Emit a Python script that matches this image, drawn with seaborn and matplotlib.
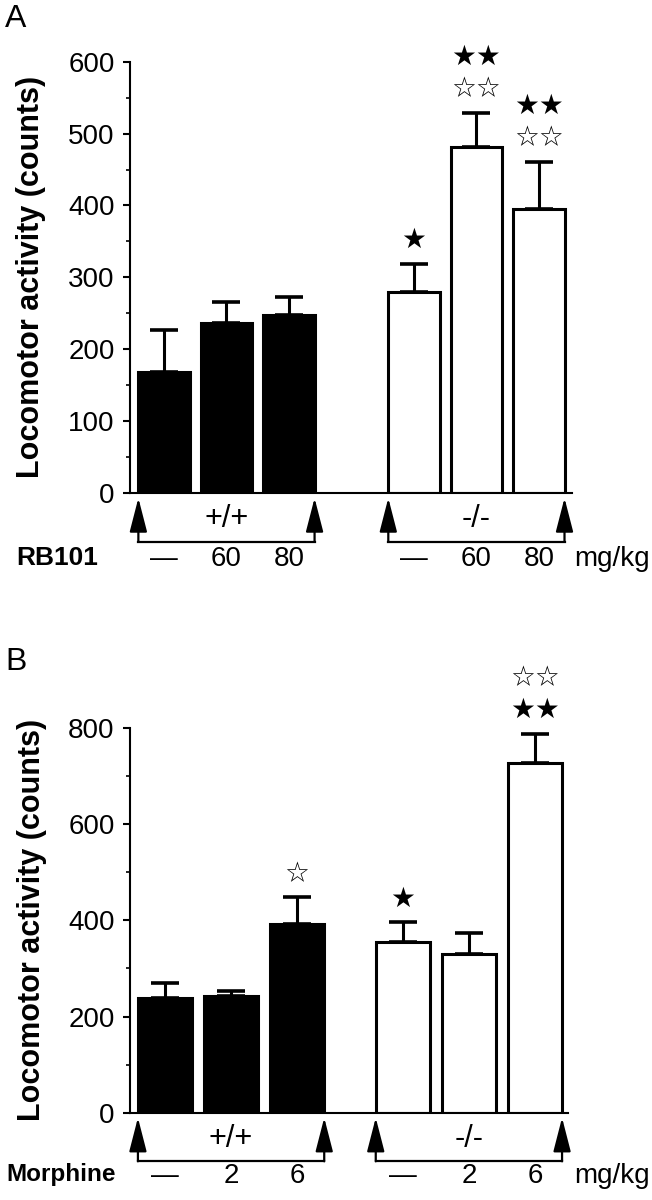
import numpy as np
import pandas as pd
import matplotlib
matplotlib.use("Agg")
import matplotlib.pyplot as plt
import seaborn as sns
from matplotlib.transforms import offset_copy, blended_transform_factory
from matplotlib.ticker import MultipleLocator

sns.set_theme(style="ticks")
plt.rcParams['font.family'] = ['Liberation Sans', 'DejaVu Sans']

# ---------------- data ----------------
genotypes = ['+/+', '+/+', '+/+', '-/-', '-/-', '-/-']

A_doses = ['—', '60', '80', '—', '60', '80']
A_mean = [169, 237, 247, 279, 481, 395]
A_sem = [58, 29, 25, 40, 48, 66]
A_stars = [[], [], [], ['★'], ['☆☆', '★★'], ['☆☆', '★★']]
A_drug = 'RB101'

B_doses = ['—', '2', '6', '—', '2', '6']
B_mean = [239, 243, 393, 355, 330, 727]
B_sem = [30, 10, 55, 41, 44, 61]
B_stars = [[], [], ['☆'], ['★'], [], ['★★', '☆☆']]
B_drug = 'Morphine'

unit = 'mg/kg'
ylabel = 'Locomotor activity (counts)'

# ---------------- layout ----------------
W, H = 652, 1200
A_pos = [0, 1, 2, 4, 5, 6]
B_pos = [0, 1, 2, 3.6, 4.6, 5.6]
BAR_W = 0.82

fig = plt.figure(figsize=(W / 100, H / 100), dpi=100)
axA = fig.add_axes([130 / W, (H - 493) / H, 442 / W, 431.3 / H])
axB = fig.add_axes([130 / W, (H - 1112.7) / H, 438 / W, 384.7 / H])


def panel(ax, pos, mean, sem, doses, stars, drug, drug_x, drug_size, ymax,
          major, minor, xlim, letter, letter_top_px, dose_pad):
    df = pd.DataFrame({'pos': pos, 'mean': mean, 'genotype': genotypes})
    sns.barplot(data=df, x='pos', y='mean', hue='genotype',
                palette={'+/+': 'black', '-/-': 'white'},
                native_scale=True, dodge=False, width=BAR_W,
                edgecolor='black', linewidth=2.2, errorbar=None,
                legend=False, ax=ax, zorder=2)
    ax.errorbar(pos, mean, yerr=[np.zeros(len(mean)), sem], fmt='none',
                ecolor='black', elinewidth=2.2, capsize=10, capthick=2.6,
                zorder=3)

    ax.set_xlim(*xlim)
    ax.set_ylim(0, ymax)
    ax.yaxis.set_major_locator(MultipleLocator(major))
    ax.yaxis.set_minor_locator(MultipleLocator(minor))
    ax.tick_params(axis='y', which='major', length=5, width=1.5,
                   labelsize=20, pad=6, color='black', labelcolor='black')
    ax.tick_params(axis='y', which='minor', length=3, width=1.2,
                   color='black')
    ax.set_xticks(pos)
    ax.set_xticklabels(doses)
    ax.tick_params(axis='x', length=0, pad=dose_pad, labelsize=20,
                   labelcolor='black')
    ax.set_xlabel('')
    ax.set_ylabel(ylabel, fontsize=22, fontweight='bold', color='black')
    ax.yaxis.set_label_coords(-0.19, 0.5)
    for s in ['top', 'right']:
        ax.spines[s].set_visible(False)
    for s in ['left', 'bottom']:
        ax.spines[s].set_linewidth(1.5)
        ax.spines[s].set_color('black')

    # significance stars (one text per row)
    row_dy = [17, 40]
    for i, rows in enumerate(stars):
        for r, s in enumerate(rows):
            ax.annotate(s, xy=(pos[i], mean[i] + sem[i]),
                        xytext=(0, row_dy[r]), textcoords='offset points',
                        ha='center', va='center', fontsize=20,
                        family='DejaVu Sans', color='black',
                        annotation_clip=False)

    # genotype brackets with arrows
    tx = ax.get_xaxis_transform()
    bracket_pt = 35
    btr = offset_copy(tx, fig=fig, y=-bracket_pt, units='points')
    for (i0, i1, lab) in [(0, 2, '+/+'), (3, 5, '-/-')]:
        xl = pos[i0] - BAR_W / 2
        xr = pos[i1] + BAR_W / 2
        ax.plot([xl, xr], [0, 0], transform=btr, color='black', lw=1.6,
                clip_on=False, solid_capstyle='projecting')
        for x in (xl, xr):
            ax.annotate('', xy=(x, 0), xycoords=tx, xytext=(0, -bracket_pt),
                        textcoords='offset points', annotation_clip=False,
                        arrowprops=dict(arrowstyle='-|>,head_length=1.05,head_width=0.27',
                                        mutation_scale=20, color='black', lw=1.6,
                                        shrinkA=0, shrinkB=3.6))
        ax.annotate(lab, xy=((xl + xr) / 2, 0), xycoords=tx, xytext=(0, -19),
                    textcoords='offset points', ha='center', va='center',
                    fontsize=22, color='black', annotation_clip=False)

    # drug name and unit on the dose row
    btx = blended_transform_factory(fig.transFigure, ax.transAxes)
    ax.annotate(drug, xy=(drug_x / W, 0), xycoords=btx, xytext=(0, -dose_pad),
                textcoords='offset points', ha='left', va='top',
                fontsize=drug_size, fontweight='bold', color='black',
                annotation_clip=False)
    ax.annotate(unit, xy=(574 / W, 0), xycoords=btx, xytext=(0, -dose_pad),
                textcoords='offset points', ha='left', va='top',
                fontsize=20, color='black', annotation_clip=False)

    fig.text(5 / W, 1 - letter_top_px / H, letter, fontsize=23,
             ha='left', va='top', color='black')


panel(axA, A_pos, A_mean, A_sem, A_doses, A_stars, A_drug, 16, 19,
      600, 100, 50, (-0.544, 6.53), 'A', 4, 38)
panel(axB, B_pos, B_mean, B_sem, B_doses, B_stars, B_drug, 6, 17.5,
      800, 200, 100, (-0.53, 6.1), 'B', 647, 36)

fig.savefig('out.png', dpi=100, facecolor='white')
